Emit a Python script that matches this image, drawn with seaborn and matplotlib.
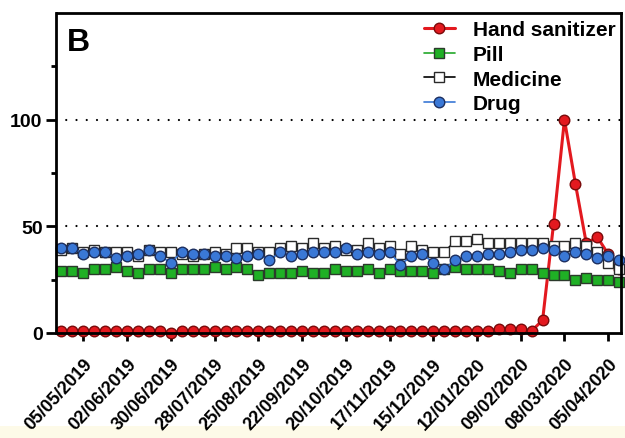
import matplotlib
matplotlib.use("Agg")
import matplotlib.pyplot as plt
from matplotlib.patches import Rectangle
import numpy as np
import pandas as pd
import seaborn as sns

# Weekly search interest (relative, 0-100), weeks starting 21/04/2019
hand_sanitizer = [1, 1, 1, 1, 1, 1, 1, 1, 1, 1, 0, 1, 1, 1, 1, 1, 1, 1, 1, 1,
                  1, 1, 1, 1, 1, 1, 1, 1, 1, 1, 1, 1, 1, 1, 1, 1, 1, 1, 1, 1,
                  2, 2, 2, 1, 6, 51, 100, 70, 42, 45, 37, 30]
pill = [29, 29, 28, 30, 30, 31, 29, 28, 30, 30, 28, 30,
        30, 30, 31, 30, 31, 30, 27, 28, 28, 28, 29, 28,
        28, 30, 29, 29, 30, 28, 30, 29, 29, 29, 28, 30,
        31, 30, 30, 30, 29, 28, 30, 30, 28, 27, 27, 25, 26, 25, 25, 24]
medicine = [39, 40, 38, 39, 38, 38, 38, 36, 39, 38, 38, 37,
            36, 37, 38, 37, 40, 40, 38, 38, 40, 41, 40, 42,
            40, 41, 39, 39, 42, 40, 41, 37, 41, 39, 38, 38,
            43, 43, 44, 42, 42, 42, 42, 42, 42, 41, 41, 42, 41, 38, 33, 30]
drug = [40, 40, 37, 38, 38, 35, 36, 37, 39, 36, 33, 38,
        37, 37, 36, 36, 35, 36, 37, 34, 38, 36, 37, 38,
        38, 38, 40, 37, 38, 37, 38, 32, 36, 37, 33, 30,
        34, 36, 36, 37, 37, 38, 39, 39, 40, 39, 36, 38, 37, 35, 36, 34]

tick_labels = ["05/05/2019", "02/06/2019", "30/06/2019", "28/07/2019",
               "25/08/2019", "22/09/2019", "20/10/2019", "17/11/2019",
               "15/12/2019", "12/01/2020", "09/02/2020", "08/03/2020",
               "05/04/2020"]

weeks = pd.date_range("2019-04-21", periods=len(pill), freq="7D")
tick_dates = pd.to_datetime(tick_labels, dayfirst=True)

sns.set_style("ticks")
plt.rcParams["font.family"] = ["Liberation Sans", "DejaVu Sans"]
plt.rcParams["font.weight"] = "bold"
plt.rcParams["text.color"] = "black"
plt.rcParams["xtick.color"] = "black"
plt.rcParams["ytick.color"] = "black"
plt.rcParams["axes.labelcolor"] = "black"

fig = plt.figure(figsize=(6.25, 4.39), dpi=100)
ax = fig.add_axes([56.5 / 625, 1 - 334 / 439, (621 - 56.5) / 625, (334 - 14) / 439])

# pale band along the bottom edge of the panel
fig.patches.append(Rectangle((0, 0), 1, 12 / 439, transform=fig.transFigure,
                             facecolor="#fdfae8", edgecolor="none", zorder=-5))

series = [
    ("Hand sanitizer", hand_sanitizer, dict(color="#e3191f", marker="o", markersize=7.6,
                                            markerfacecolor="#e3191f", markeredgecolor="#7a0a0a",
                                            linewidth=2.2)),
    ("Pill", pill, dict(color="#22a82a", marker="s", markersize=7.0,
                        markerfacecolor="#1fb025", markeredgecolor="#2b3a2b", linewidth=1.2)),
    ("Medicine", medicine, dict(color="black", marker="s", markersize=7.0,
                                markerfacecolor="white", markeredgecolor="#2a2a2a", linewidth=1.2)),
    ("Drug", drug, dict(color="#3a78d6", marker="o", markersize=7.6,
                        markerfacecolor="#3a78d6", markeredgecolor="#1c2f60", linewidth=1.2)),
]

for name, values, style in series:
    sns.lineplot(x=weeks, y=values, ax=ax, label=name, markeredgewidth=1.0,
                 clip_on=False, **style)

# reference levels
for level in (50, 100):
    ax.axhline(level, color="black", lw=1.6, ls=(0, (0.01, 4.6)),
               dash_capstyle="round", zorder=0.5)

ax.set_xlim(weeks[0] - pd.Timedelta(days=3.2), weeks[-1] + pd.Timedelta(days=1.2))
ax.set_ylim(0, 150)

ax.set_yticks([0, 50, 100])
ax.set_yticks([25, 75, 125], minor=True)
ax.set_yticklabels(["0", "50", "100"], fontsize=14, fontweight="bold")
ax.set_xticks(tick_dates)
ax.set_xticklabels(tick_labels, rotation=47, ha="right", rotation_mode="anchor",
                   fontsize=13, fontweight="bold")
ax.tick_params(axis="y", which="major", length=7, width=2, pad=3)
ax.tick_params(axis="y", which="minor", length=3.5, width=2)
ax.tick_params(axis="x", which="major", length=6, width=2, pad=10)
ax.set_xlabel("")
ax.set_ylabel("")

for sp in ax.spines.values():
    sp.set_linewidth(2)
    sp.set_color("black")

ax.text(0.019, 0.955, "B", transform=ax.transAxes, fontsize=23, fontweight="bold",
        va="top", ha="left")

ax.legend(loc="upper right", bbox_to_anchor=(1.012, 1.016), frameon=False,
          prop=dict(weight="bold", size=15), handlelength=1.5, handletextpad=0.85,
          labelspacing=0.27, borderaxespad=0.2)

fig.savefig("out.png", dpi=100)
